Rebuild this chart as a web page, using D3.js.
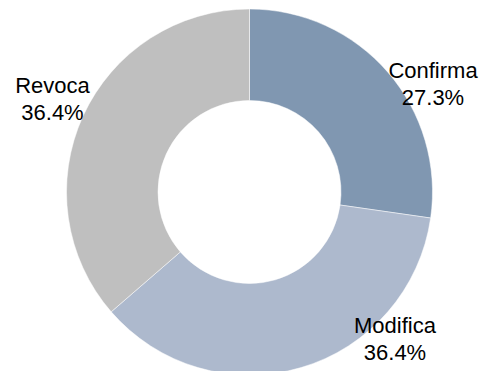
<!DOCTYPE html>
<html>
<head>
<meta charset="utf-8">
<script src="https://cdn.jsdelivr.net/npm/d3@7"></script>
<style>
html,body{margin:0;padding:0;background:#fff;}
svg{display:block;}
</style>
</head>
<body>
<svg id="chart" width="485" height="371"></svg>
<script>
const categories = ["Confirma", "Modifica", "Revoca"];
const values = [3, 4, 4];
const percentLabels = ["27.3%", "36.4%", "36.4%"];
const colors = ["#8097b1", "#adb9cd", "#bfbfbf"];

const svg = d3.select("#chart");
const cx = 249.5, cy = 192, outerR = 183, innerR = 91.5;

const pie = d3.pie().sort(null).value(d => d)(values);
const arc = d3.arc().innerRadius(innerR).outerRadius(outerR);

const g = svg.append("g").attr("transform", `translate(${cx},${cy})`);
g.selectAll("path").data(pie).enter().append("path")
  .attr("d", arc)
  .attr("fill", (d, i) => colors[i])
  .attr("stroke", "#fff")
  .attr("stroke-width", 0.5);

// label anchor positions (center x, first baseline y)
const labelPos = [[433, 78], [395, 333], [52.5, 93]];
const lbl = svg.append("g")
  .attr("font-family", "Liberation Sans, Arial, sans-serif")
  .attr("font-size", "22px")
  .attr("fill", "#000")
  .attr("text-anchor", "middle");
categories.forEach((c, i) => {
  const t = lbl.append("text").attr("x", labelPos[i][0]).attr("y", labelPos[i][1]);
  t.append("tspan").attr("x", labelPos[i][0]).text(c);
  t.append("tspan").attr("x", labelPos[i][0]).attr("dy", 26.5).text(percentLabels[i]);
});
</script>
</body>
</html>
